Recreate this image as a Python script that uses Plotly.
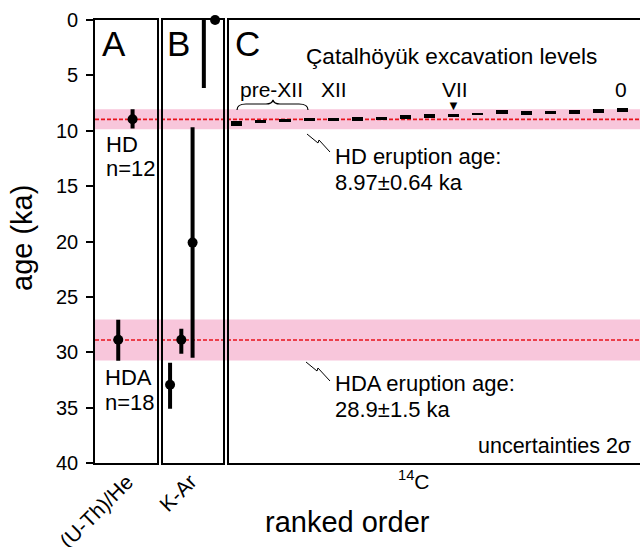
import plotly.graph_objects as go

# ---------------- data ----------------
# (U-Th)/He ages (ka), ranked
uthhe_rank = [1, 2]
uthhe_age = [28.87, 8.96]
uthhe_err_minus = [1.81, 0.91]
uthhe_err_plus = [1.90, 0.84]

# K-Ar ages (ka), ranked
kar_rank = [1, 2, 3, 4, 5]
kar_age = [32.94, 28.87, 20.10, 3.10, 0.0]
kar_err_minus = [1.99, 1.00, 10.42, 3.10, 0.0]
kar_err_plus = [2.16, 1.27, 10.40, 3.05, 0.0]
kar_has_point = [True, True, True, False, True]

# 14C ages (ka) of Catalhoyuk excavation levels, ranked
c14_rank = list(range(1, 18))
c14_age = [9.32, 9.14, 9.10, 8.99, 8.99, 8.94, 8.89, 8.75, 8.67,
           8.60, 8.48, 8.33, 8.40, 8.37, 8.30, 8.22, 8.17]
c14_err = [0.21, 0.15, 0.14, 0.15, 0.15, 0.16, 0.16, 0.18, 0.20,
           0.15, 0.12, 0.18, 0.14, 0.14, 0.15, 0.20, 0.18]

# eruption ages (ka) and drawn uncertainty bands
eruption_names = ["HD", "HDA"]
eruption_age = [8.97, 28.9]
eruption_band_low = [8.05, 27.05]
eruption_band_high = [9.87, 30.75]
eruption_labels = ["HD eruption age:", "HDA eruption age:"]
eruption_values = ["8.97±0.64 ka", "28.9±1.5 ka"]

# excavation level labels and their rank positions
level_labels = ["pre-XII", "XII", "VII", "0"]
level_rank = [2.45, 5.05, 10.05, 16.95]

y_ticks = [0, 5, 10, 15, 20, 25, 30, 35, 40]

# ---------------- layout helpers ----------------
W, H = 640, 547
ML, MR, MT, MB = 95, 0, 20, 84
PW, PH = W - ML - MR, H - MT - MB
FONT = "Liberation Sans, Arial, sans-serif"
LW = 1.6


def px(x):
    return (x - ML) / PW


def py(y):
    return (H - MB - y) / PH


def path_px(cmds):
    out = []
    for c in cmds:
        if isinstance(c, str):
            out.append(c)
        else:
            out.append(f"{px(c[0]):.5f},{py(c[1]):.5f}")
    return " ".join(out)


fig = go.Figure()

err_style = dict(type="data", symmetric=False, thickness=4, width=0, color="black")

fig.add_trace(go.Scatter(
    x=uthhe_rank, y=uthhe_age, mode="markers",
    marker=dict(color="black", size=10, line=dict(width=0)),
    error_y=dict(array=uthhe_err_plus, arrayminus=uthhe_err_minus, **err_style),
    xaxis="x", yaxis="y", cliponaxis=False, showlegend=False))

fig.add_trace(go.Scatter(
    x=kar_rank, y=kar_age, mode="markers",
    marker=dict(color=["black" if p else "rgba(0,0,0,0)" for p in kar_has_point],
                size=10, opacity=1, line=dict(width=0)),
    error_y=dict(array=kar_err_plus, arrayminus=kar_err_minus, **err_style),
    xaxis="x2", yaxis="y2", cliponaxis=False, showlegend=False))

fig.add_trace(go.Bar(
    x=c14_rank, y=[2 * e for e in c14_err],
    base=[a - e for a, e in zip(c14_age, c14_err)],
    width=0.46, marker=dict(color="black", line=dict(width=0)),
    xaxis="x3", yaxis="y3", showlegend=False))

shapes = []
for lo, hi in zip(eruption_band_low, eruption_band_high):
    shapes.append(dict(type="rect", xref="paper", yref="y", x0=0, x1=1, y0=lo, y1=hi,
                       fillcolor="#F8C6DB", line=dict(width=0), layer="below"))
for a in eruption_age:
    shapes.append(dict(type="line", xref="paper", yref="y", x0=0, x1=1, y0=a, y1=a,
                       line=dict(color="#E8121C", width=1.6, dash="4px,2px"), layer="below"))

# brace over pre-XII
shapes.append(dict(type="path", xref="paper", yref="paper",
                   path=path_px(["M", (237, 110), "Q", (237, 104), (246, 104), "L", (266, 104),
                                 "Q", (272, 104), (273, 100), "Q", (274, 104), (280, 104),
                                 "L", (299, 104), "Q", (308, 104), (308, 110)]),
                   line=dict(color="black", width=1.2)))
# lightning leaders
shapes.append(dict(type="path", xref="paper", yref="paper",
                   path=path_px(["M", (307, 134), "L", (318, 143), "L", (319, 140), "L", (330, 152)]),
                   line=dict(color="black", width=1)))
shapes.append(dict(type="path", xref="paper", yref="paper",
                   path=path_px(["M", (306, 362), "L", (317, 371), "L", (318, 368), "L", (330, 381)]),
                   line=dict(color="black", width=1)))

ann = []


def text(x, y, s, size, xanchor="center", yanchor="middle", angle=0, xref="paper"):
    ann.append(dict(x=x if xref != "paper" else px(x), y=py(y), xref=xref, yref="paper",
                    text=s, showarrow=False, xanchor=xanchor, yanchor=yanchor,
                    textangle=angle, font=dict(size=size, color="black", family=FONT)))


text(113.5, 44, "A", 35)
text(178, 44, "B", 35)
text(247.5, 44, "C", 35)
text(304, 57, "Çatalhöyük excavation levels", 22.6, xanchor="left")
for lab, r in zip(level_labels, level_rank):
    text(r, 90, lab, 21, xref="x3")
text(10, 105, "▼", 13, xref="x3")

text(104, 144.5, "HD", 22, xanchor="left")
text(104, 168.5, "n=12", 22, xanchor="left")
text(103, 377.5, "HDA", 22, xanchor="left")
text(103, 402.5, "n=18", 22, xanchor="left")

text(333, 157, eruption_labels[0], 22, xanchor="left")
text(333, 182, eruption_values[0], 22, xanchor="left")
text(333, 383, eruption_labels[1], 22, xanchor="left")
text(333, 409, eruption_values[1], 22, xanchor="left")

text(633, 446, "uncertainties 2σ", 21.5, xanchor="right")

text(22, 238, "age (ka)", 29, angle=-90)
text(347, 522, "ranked order", 29)
text(414, 480, "<sup>14</sup>C", 21)
text(140, 468, "(U-Th)/He", 21, xanchor="right", yanchor="top", angle=-45)
text(204, 467, "K-Ar", 21, xanchor="right", yanchor="top", angle=-45)

box = dict(showline=True, mirror=True, linecolor="black", linewidth=LW,
           showgrid=False, zeroline=False, ticks="", showticklabels=False, fixedrange=True)

fig.update_layout(
    width=W, height=H,
    margin=dict(l=ML, r=MR, t=MT, b=MB, pad=0),
    paper_bgcolor="white", plot_bgcolor="rgba(0,0,0,0)",
    font=dict(family=FONT, color="black"),
    showlegend=False, bargap=0,
    shapes=shapes, annotations=ann,
    xaxis=dict(domain=[0, px(157.4)], range=[-0.62, 3.73], anchor="y", **box),
    yaxis=dict(domain=[0, 1], range=[40, 0], anchor="x", showline=True, mirror=True,
               linecolor="black", linewidth=LW, showgrid=False, zeroline=False,
               tickvals=y_ticks, ticks="outside", ticklen=7, tickwidth=LW, tickcolor="black",
               tickfont=dict(size=20, family=FONT, color="black"), ticklabelstandoff=4,
               fixedrange=True),
    xaxis2=dict(domain=[px(163.2), px(223.2)], range=[0.39, 5.72], anchor="y2", **box),
    yaxis2=dict(domain=[0, 1], range=[40, 0], anchor="x2", matches="y", **box),
    xaxis3=dict(domain=[px(228.8), 1], range=[0.68, 17.73], anchor="y3", **box),
    yaxis3=dict(domain=[0, 1], range=[40, 0], anchor="x3", matches="y",
                **{**box, "mirror": False}),
)

fig.write_html("out.html")
